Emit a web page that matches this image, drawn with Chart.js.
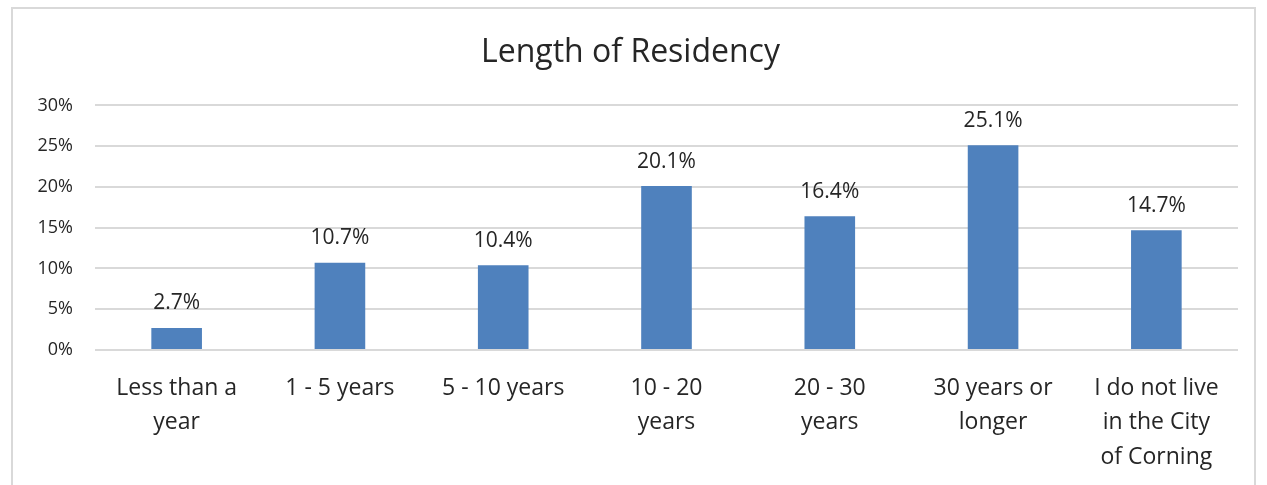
<!DOCTYPE html>
<html>
<head>
<meta charset="utf-8">
<script src="https://cdn.jsdelivr.net/npm/chart.js@4.4.1/dist/chart.umd.min.js"></script>
<style>
    html, body { margin: 0; padding: 0; background: #fff; }
    #frame {
        position: absolute; left: 11px; top: 7px;
        width: 1241px; height: 478px;
        border: 2px solid #D9D9D9; border-bottom: none;
        background: #fff;
    }
    #frame canvas { display: block; }
</style>
</head>
<body>
<div id="frame"><canvas id="chart" width="1241" height="478"></canvas></div>
<script>
    "use strict";

    // Chart data
    var categories = [
        ["Less than a", "year"],
        "1 - 5 years",
        "5 - 10 years",
        ["10 - 20", "years"],
        ["20 - 30", "years"],
        ["30 years or", "longer"],
        ["I do not live", "in the City", "of Corning"]
    ];
    var residencyPct = [2.7, 10.7, 10.4, 20.1, 16.4, 25.1, 14.7];
    var yTicks = [0, 5, 10, 15, 20, 25, 30];

    var fontFamily = "'Open Sans', Lato, sans-serif";
    var textColor = "#262626";

    // Value labels above the bars
    var barLabels = {
        id: "barLabels",
        afterDatasetsDraw: function (chart) {
            var ctx = chart.ctx;
            var meta = chart.getDatasetMeta(0);
            ctx.save();
            ctx.font = "21px " + fontFamily;
            ctx.fillStyle = textColor;
            ctx.textAlign = "center";
            ctx.textBaseline = "bottom";
            meta.data.forEach(function (bar, i) {
                ctx.fillText(residencyPct[i].toFixed(1) + "%", bar.x, bar.y - 14);
            });
            ctx.restore();
        }
    };

    new Chart(document.getElementById("chart").getContext("2d"), {
        type: "bar",
        data: {
            labels: categories,
            datasets: [{
                label: "Length of Residency",
                data: residencyPct,
                backgroundColor: "#4F81BD",
                barPercentage: 0.62,
                categoryPercentage: 0.5
            }]
        },
        options: {
            responsive: false,
            animation: false,
            layout: { padding: { left: 10, right: 16, bottom: 4 } },
            plugins: {
                legend: { display: false },
                tooltip: { enabled: false },
                title: {
                    display: true,
                    text: "Length of Residency",
                    color: textColor,
                    font: { family: fontFamily, size: 32, weight: "normal" },
                    padding: { top: 25, bottom: 33 }
                }
            },
            scales: {
                x: {
                    grid: { display: false },
                    border: { display: false },
                    ticks: {
                        color: textColor,
                        font: { family: fontFamily, size: 23, lineHeight: 1.5 },
                        padding: 13,
                        maxRotation: 0,
                        autoSkip: false
                    },
                    afterFit: function (scale) { scale.height = 133; }
                },
                y: {
                    min: 0,
                    max: 30,
                    afterBuildTicks: function (scale) {
                        scale.ticks = yTicks.map(function (v) { return { value: v }; });
                    },
                    grid: { color: "#D9D9D9", lineWidth: 2, drawTicks: false },
                    border: { display: false },
                    ticks: {
                        color: textColor,
                        font: { family: fontFamily, size: 18 },
                        padding: 22,
                        callback: function (v) { return v + "%"; }
                    },
                    afterFit: function (scale) { scale.width = 72; }
                }
            }
        },
        plugins: [barLabels]
    });
</script>
</body>
</html>
